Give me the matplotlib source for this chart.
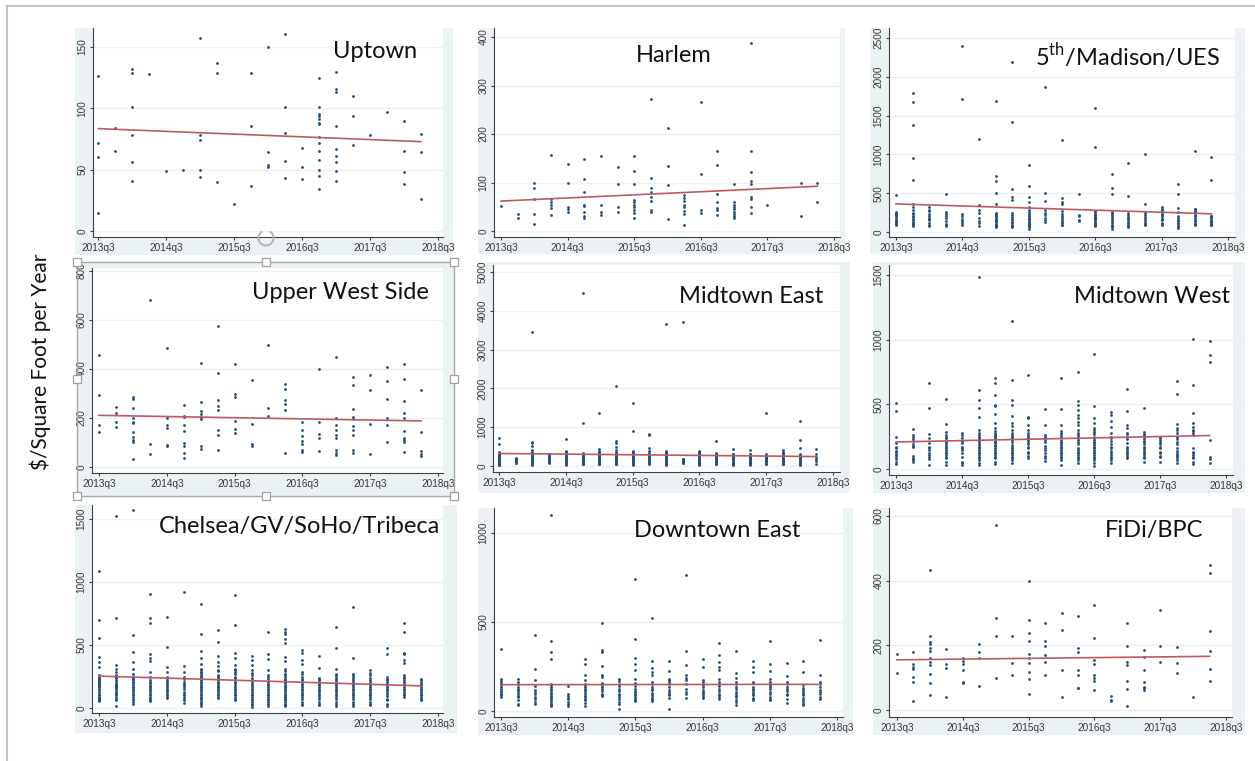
import numpy as np
import matplotlib
matplotlib.use("Agg")
import matplotlib.pyplot as plt
from matplotlib.patches import Rectangle, Arc

# ---- data: $/sq ft per year, one list per quarter starting 2013q3 ----
quarter_ticks = [0, 4, 8, 12, 16, 20]
quarter_labels = ['2013q3', '2014q3', '2015q3', '2016q3', '2017q3', '2018q3']

uptown = [
    [126, 72, 60, 15], [84, 65], [132, 129, 101, 78, 56, 41], [128], [49], [50],
    [157, 78, 74, 50, 44], [137, 129, 40], [22], [129, 86, 37], [150, 64, 54, 52],
    [161, 101, 80, 57, 43], [68, 52, 42],
    [125, 101, 95, 94, 91, 88, 87, 77, 72, 65, 58, 50, 45, 34],
    [130, 116, 113, 86, 67, 61, 56, 49, 41], [110, 94, 70], [78], [97],
    [90, 65, 48, 38], [79, 64, 26],
]

harlem = [
    [52], [36, 27], [100, 88, 66, 36, 14], [156, 66, 59, 54, 48, 32],
    [138, 98, 50, 45, 39], [149, 107, 81, 54, 51, 39, 31, 26], [154, 54, 39, 34],
    [131, 96, 49, 40], [154, 124, 96, 64, 60, 54, 49, 43, 38, 27],
    [272, 109, 89, 81, 71, 61, 43, 39], [212, 133, 94, 24],
    [75, 69, 61, 54, 49, 42, 36, 12], [266, 118, 43, 38],
    [164, 137, 76, 59, 48, 43, 32], [96, 59, 54, 49, 45, 40, 36, 31, 27],
    [388, 165, 122, 103, 97, 70, 66, 50, 38], [54], [], [100, 30], [99, 59],
]

madison_ues = [
    [472, 250, 230, 200, 160, 130, 110, 90],
    [1795, 1671, 1383, 954, 666, 357, 322, 249, 200, 172, 129, 99, 77],
    [322, 288, 236, 185, 150, 77], [485, 236, 202, 107, 73],
    [2401, 1710, 236, 172, 116], [1198, 352, 288, 142, 77],
    [1692, 722, 653, 503, 357, 215, 190, 172, 142, 107, 90, 77],
    [2190, 1413, 550, 451, 417, 215, 172, 116, 64],
    [859, 593, 451, 387, 322, 279, 236, 200, 172, 129, 99, 73, 43],
    [1868, 503, 404, 288, 215, 150], [1185, 434, 387, 357, 236, 185, 129, 86],
    [485, 223, 159], [1594, 1100, 258, 215, 190, 172, 120, 86],
    [743, 567, 485, 258, 215, 163, 95, 43], [889, 464, 215, 180, 129, 64],
    [1001, 365, 215, 163, 120, 86], [322, 279, 236, 172, 107],
    [619, 485, 309, 202, 142, 99, 56], [1048, 301, 258, 215, 159, 107],
    [966, 670, 202, 159, 116, 86],
]
# points packed in the solid lower columns
madison_ues_cluster = [
    [260, 215, 180, 145, 100], [280, 230, 190, 150, 115, 85], [270, 210, 165, 120, 95],
    [260, 180, 140, 90], [200, 140, 90], [240, 180, 110],
    [250, 230, 200, 160, 125, 95, 70], [250, 190, 150, 130, 90, 75],
    [260, 210, 185, 150, 110, 85, 60], [250, 180, 130], [270, 210, 160, 110, 95],
    [200, 140], [270, 235, 205, 180, 150, 130, 105, 75],
    [240, 200, 180, 140, 110, 80, 60], [240, 195, 160, 110, 90, 75],
    [240, 190, 140, 100], [300, 260, 220, 195, 150, 120, 90],
    [260, 180, 160, 120, 80, 70], [290, 270, 240, 200, 180, 140, 120, 95],
    [210, 190, 175, 140, 130, 100, 95],
]

upper_west = [
    [458, 292, 171, 141], [245, 220, 184, 164],
    [287, 278, 241, 198, 184, 179, 141, 123, 111, 104, 33], [682, 94, 52],
    [487, 202, 171, 160, 91, 85], [255, 209, 203, 171, 145, 99, 85, 58, 35],
    [424, 266, 229, 218, 206, 197, 85, 73], [574, 384, 275, 247, 231, 149, 129, 69],
    [419, 296, 287, 186, 156, 138], [354, 174, 92, 87], [500, 240, 210],
    [340, 320, 273, 259, 233, 56], [184, 152, 127, 108, 92, 69, 60],
    [400, 184, 133, 119, 66], [450, 199, 172, 153, 130, 117, 71, 57, 50],
    [367, 334, 236, 206, 195, 169, 153, 131, 71, 56], [376, 315, 175, 52],
    [409, 351, 277, 199, 171, 102], [422, 360, 270, 222, 202, 146, 117, 111, 102, 60],
    [313, 141, 66, 53, 43],
]

midtown_east = [
    [712, 566, 350, 300, 250, 200, 170, 140, 110, 80, 50, 30],
    [200, 170, 140, 110, 80],
    [3456, 626, 583, 515, 412, 350, 300, 250, 200, 150, 100, 50],
    [320, 270, 220, 170, 120, 80],
    [686, 380, 330, 280, 230, 180, 130, 90, 50],
    [4460, 1098, 330, 280, 230, 180, 140, 100, 60],
    [1372, 429, 380, 340, 300, 260, 220, 180, 140, 100, 60],
    [2058, 643, 583, 497, 412, 350, 300, 260, 220, 180, 140, 100, 60],
    [1629, 900, 380, 340, 300, 250, 200, 150, 100, 50],
    [815, 797, 455, 377, 330, 280, 230, 180, 130, 80],
    [3670, 380, 330, 280, 230, 180, 130, 80, 40], [3705, 180, 150, 120, 90],
    [380, 330, 280, 230, 180, 130, 90, 50], [643, 340, 290, 240, 190, 140, 100, 60],
    [446, 320, 270, 220, 170, 130, 90, 50], [412, 320, 270, 220, 170, 130, 90, 50],
    [1372, 300, 260, 220, 180, 140, 100, 60], [400, 340, 290, 240, 190, 140, 100, 60],
    [1149, 669, 455, 300, 250, 200, 150, 100, 60, 30], [429, 300, 180, 60],
]
midtown_east_cluster = [
    [320, 280, 230, 190, 150, 120, 90, 60, 20], [190, 150, 120, 90],
    [330, 280, 230, 180, 130, 80, 30], [300, 250, 200, 150, 100],
    [360, 310, 260, 210, 160, 110, 70, 30], [310, 260, 210, 160, 120, 80, 40],
    [360, 320, 280, 240, 200, 160, 120, 80, 40], [330, 280, 240, 200, 160, 120, 80, 40],
    [360, 320, 270, 220, 180, 130, 80, 30], [310, 260, 210, 160, 110, 60],
    [360, 310, 260, 210, 160, 110, 60, 20], [170, 140, 110, 80],
    [360, 310, 260, 210, 160, 110, 70, 30], [320, 270, 220, 170, 120, 80, 40],
    [300, 250, 200, 150, 110, 70, 30], [300, 250, 200, 150, 110, 70, 30],
    [280, 240, 200, 160, 120, 80, 40], [370, 320, 270, 220, 170, 120, 80, 40],
    [280, 230, 180, 130, 80, 40], [240, 120],
]

midtown_west = [
    [513, 448, 247, 173, 160, 134, 116, 95, 77, 57, 36],
    [307, 263, 250, 216, 180, 173, 88, 80, 70, 57],
    [662, 472, 273, 240, 173, 147, 121, 95, 77, 31],
    [539, 348, 289, 263, 237, 211, 186, 160, 134, 108, 82, 57, 31],
    [276, 237, 198, 173, 147, 57, 44, 31],
    [1482, 608, 533, 469, 405, 302, 250, 237, 230, 198, 173, 147, 121, 95, 70, 44, 31],
    [706, 662, 570, 495, 490, 423, 358, 314, 263, 260, 237, 220, 211, 186, 160, 134, 108, 82, 57, 39],
    [1147, 685, 533, 495, 412, 353, 332, 302, 263, 237, 211, 173, 147, 121, 95, 70, 44],
    [724, 405, 392, 340, 302, 263, 237, 211, 173, 134, 82],
    [466, 343, 263, 237, 211, 147, 82, 64],
    [701, 466, 343, 281, 263, 224, 198, 173, 147, 121, 95, 70, 31],
    [753, 526, 495, 456, 418, 392, 366, 340, 302, 263, 237, 211, 147, 121, 70, 44],
    [889, 485, 392, 353, 314, 289, 250, 224, 198, 173, 147, 121, 95, 70, 44, 23],
    [438, 418, 374, 327, 276, 237, 173, 121, 95, 70, 44],
    [621, 448, 340, 314, 281, 250, 147, 121, 82],
    [469, 284, 260, 234, 211, 173, 134, 108, 82, 57],
    [237, 211, 173, 134, 103, 52],
    [678, 577, 348, 314, 276, 245, 206, 126, 100, 70, 44],
    [1003, 647, 433, 358, 322, 260, 134, 108, 82, 57, 39],
    [990, 879, 825, 224, 95, 49],
]
midtown_west_cluster = [
    [200, 140, 105], [230, 195, 100], [200, 160, 110],
    [250, 225, 200, 170, 145, 120, 95], [260, 220, 160, 120, 90],
    [280, 260, 215, 185, 160, 135, 110, 85],
    [290, 275, 245, 200, 175, 150, 120, 95],
    [280, 250, 225, 185, 160, 135, 110, 85], [280, 250, 225, 190, 160, 120, 100],
    [250, 225, 180, 160, 120, 100],
    [290, 250, 210, 185, 160, 135, 110, 85],
    [280, 250, 225, 190, 160, 135, 110, 95, 85],
    [300, 270, 240, 210, 185, 160, 135, 110, 85],
    [250, 220, 190, 160, 140, 110, 85], [270, 230, 200, 170, 160, 135, 110, 95],
    [270, 250, 220, 190, 160, 145, 120, 95], [250, 225, 190, 160, 120, 90],
    [300, 230, 190, 160, 140, 110, 85], [300, 290, 280, 160, 120, 95],
    [80],
]

chelsea_soho = [
    [1091, 698, 552, 406, 366, 327, 260, 234, 207, 180, 154, 127, 101, 74, 53],
    [1526, 717, 340, 313, 287, 247, 220, 194, 167, 141, 114, 88, 13],
    [1569, 581, 446, 366, 308, 268, 234, 207, 180, 154, 127, 101, 74, 35],
    [908, 714, 677, 425, 393, 374, 287, 207, 180, 154, 114, 88, 53],
    [722, 486, 327, 287, 247, 220, 194, 154, 114, 88],
    [918, 334, 287, 247, 207, 167, 127, 88, 42],
    [828, 587, 454, 393, 353, 313, 287, 260, 234, 207, 180, 154, 127, 101, 69, 13],
    [619, 526, 411, 366, 334, 300, 260, 234, 207, 180, 154, 127, 101, 80],
    [897, 658, 438, 393, 340, 313, 287, 247, 207, 167, 127, 88, 66],
    [409, 380, 340, 300, 260, 220, 194, 154, 114, 74, 35, 8],
    [600, 425, 388, 300, 247, 207, 167, 127, 88, 48, 16],
    [627, 605, 584, 547, 512, 406, 374, 313, 273, 234, 207, 180, 154, 127, 101, 74, 48, 13],
    [457, 433, 380, 353, 287, 247, 207, 167, 127, 88, 35, 21],
    [414, 321, 234, 207, 167, 127, 88, 48, 21],
    [645, 475, 313, 273, 247, 207, 167, 127, 88, 48, 16],
    [799, 393, 273, 247, 207, 167, 127, 88, 48, 16],
    [300, 260, 220, 194, 167, 127, 88, 48, 21],
    [473, 425, 247, 207, 167, 127, 74, 13],
    [677, 600, 435, 428, 380, 361, 260, 220, 194, 167, 127, 88],
    [234, 207, 167, 127, 88, 61],
]
chelsea_soho_cluster = [
    [250, 240, 225, 215, 200, 190, 175, 165, 140, 115, 90, 80, 65],
    [260, 235, 210, 185, 175, 155, 130, 120, 100, 75, 60],
    [250, 240, 220, 195, 170, 165, 140, 115, 90, 60, 45],
    [245, 220, 195, 170, 165, 140, 125, 100, 75, 60],
    [240, 210, 180, 170, 140, 125, 100, 80],
    [230, 190, 180, 150, 115, 100, 75, 60],
    [300, 280, 250, 245, 220, 195, 170, 165, 140, 115, 90, 80, 55, 40, 30],
    [290, 250, 245, 220, 195, 170, 165, 140, 115, 90],
    [300, 270, 235, 220, 195, 180, 150, 140, 115, 100, 75],
    [280, 240, 210, 180, 170, 140, 125, 100, 85, 60, 50, 20],
    [260, 230, 190, 180, 150, 140, 110, 100, 70, 60, 30],
    [290, 260, 250, 220, 195, 170, 165, 140, 115, 90, 85, 60, 35, 25],
    [270, 230, 220, 190, 180, 150, 140, 110, 100, 70, 50],
    [240, 220, 190, 180, 150, 140, 110, 100, 70, 35],
    [260, 230, 220, 190, 180, 150, 140, 110, 100, 70, 30],
    [260, 230, 220, 190, 180, 150, 140, 110, 100, 70, 30],
    [280, 240, 210, 180, 150, 140, 110, 100, 70, 35],
    [230, 220, 190, 180, 150, 140, 110, 95, 60, 30],
    [250, 240, 210, 180, 150, 140, 110, 100],
    [220, 190, 180, 150, 140, 110, 100, 75],
]

downtown_east = [
    [350, 182, 167, 144, 125, 107, 88, 77], [182, 163, 135, 116, 97, 79, 41, 32],
    [425, 234, 172, 116, 97, 79, 41],
    [1099, 395, 331, 294, 154, 135, 116, 97, 79, 60, 41, 28],
    [140, 82, 73, 51, 28], [290, 266, 200, 172, 154, 135, 116, 97, 79, 60, 28],
    [494, 341, 331, 251, 200, 191, 144, 125, 97, 84], [182, 154, 125, 97, 79, 51, 13],
    [743, 406, 298, 266, 228, 182, 125, 107, 88, 69, 54],
    [524, 279, 242, 219, 200, 163, 135, 116, 88, 69, 54],
    [283, 227, 182, 163, 135, 107, 88, 13], [762, 337, 260, 204, 172, 107, 73],
    [290, 245, 172, 154, 135, 107, 88, 73],
    [380, 313, 275, 247, 228, 182, 163, 125, 88, 69],
    [335, 213, 185, 163, 135, 107, 79, 36], [279, 247, 219, 163, 135, 116, 88, 66],
    [395, 266, 225, 182, 154, 135, 107, 79, 60], [270, 197, 163, 125, 88, 45],
    [283, 219, 144, 116, 88, 60, 32], [399, 200, 163, 135, 107, 69],
]
downtown_east_cluster = [
    [160, 135, 115, 95], [150, 125, 105, 85, 60], [140, 105, 65, 50],
    [145, 125, 105, 85, 70, 50, 35], [95, 65, 40], [145, 125, 105, 85, 70, 45],
    [160, 135, 110, 90], [170, 140, 110, 90, 65, 40], [160, 140, 115, 95, 80, 60],
    [150, 125, 100, 80, 65], [175, 150, 120, 95, 75], [185, 150, 125, 95],
    [165, 145, 120, 100, 80], [150, 140, 110, 95, 80], [150, 125, 95, 85, 60, 50],
    [155, 125, 105, 95, 75, 60], [165, 145, 125, 95, 70], [150, 135, 110, 95, 65],
    [130, 105, 95, 75, 50, 40], [150, 120, 95, 80],
]

fidi_bpc = [
    [172, 115], [178, 142, 134, 127, 103, 88, 27],
    [433, 230, 211, 203, 193, 182, 162, 150, 139, 110, 85, 45], [189, 141, 131, 39],
    [162, 153, 142, 125, 88, 85], [204, 178, 160, 74], [573, 286, 228, 98],
    [228, 146, 107], [399, 279, 239, 214, 173, 161, 146, 119, 96, 51],
    [268, 214, 198, 170, 150, 108], [299, 247, 123, 39],
    [292, 193, 180, 123, 108, 69, 67], [325, 224, 154, 141, 108, 98, 91, 63],
    [44, 32, 28], [268, 199, 150, 139, 91, 64, 12], [186, 164, 123, 88, 72, 67, 61],
    [309, 198, 147], [194, 146, 115], [39], [448, 423, 243, 184, 127, 89],
]

titles = ['Uptown', 'Harlem', r'5$^{\mathrm{th}}$/Madison/UES',
          'Upper West Side', 'Midtown East', 'Midtown West',
          'Chelsea/GV/SoHo/Tribeca', 'Downtown East', 'FiDi/BPC']
panel_data = [(uptown, None), (harlem, None), (madison_ues, madison_ues_cluster),
              (upper_west, None), (midtown_east, midtown_east_cluster),
              (midtown_west, midtown_west_cluster), (chelsea_soho, chelsea_soho_cluster),
              (downtown_east, downtown_east_cluster), (fidi_bpc, None)]
yticks = [[0, 50, 100, 150], [0, 100, 200, 300, 400], [0, 500, 1000, 1500, 2000, 2500],
          [0, 200, 400, 600, 800], [0, 1000, 2000, 3000, 4000, 5000], [0, 500, 1000, 1500],
          [0, 500, 1000, 1500], [0, 500, 1000], [0, 200, 400, 600]]

# ---- layout, in pixels of the 1255x761 picture ----
W, H = 1255, 761
# background box (x0, y0, x1, y1)
bg_boxes = [(75, 28, 453, 255), (478, 28, 845, 254), (870, 28, 1245, 254),
            (77, 262, 454, 496), (478, 262, 850, 493), (873, 262, 1245, 493),
            (75, 505, 457, 733), (478, 508, 853, 735), (873, 508, 1245, 735)]
# plot area (x0, y0, x1, y1)
ax_boxes = [(93, 28, 443, 237), (494, 28, 840, 237), (889, 28, 1235, 237),
            (92, 268, 443, 473), (493, 265, 840, 472), (889, 265, 1233, 475),
            (92, 505, 443, 713), (494, 508, 843, 717), (889, 508, 1232, 717)]
# pixel x of 2013q3 and 2018q3
x_px = [(98.3, 437.7), (501, 834), (896, 1228), (99, 438), (499, 833),
        (896, 1226), (99, 438), (501, 837), (897, 1226)]
# pixel y of 0 and of the top tick
y_px = [(231, 47), (231, 37), (232, 38), (467, 271), (466, 272),
        (469, 275), (708, 519), (711, 533), (710, 516)]
# title: center x, baseline y
title_pos = [(375, 58), (674, 62), (1128, 66), (340, 299), (751, 303),
             (1152, 303), (300, 533), (717, 537), (1154, 537)]

BG = '#eaf2f3'
DOT = '#1f4f7a'
FIT = '#bd5a60'

plt.rcParams['mathtext.fontset'] = 'custom'
plt.rcParams['mathtext.rm'] = 'Lato'

fig = plt.figure(figsize=(W / 100, H / 100), dpi=100)
fig.patch.set_facecolor('white')


def fbox(x0, y0, x1, y1):
    return [x0 / W, 1 - y1 / H, (x1 - x0) / W, (y1 - y0) / H]


# slide border
fig.add_artist(plt.Line2D([7 / W, 1], [1 - 6 / H, 1 - 6 / H], color='#c4c4c4', lw=1.5))
fig.add_artist(plt.Line2D([7 / W, 7 / W], [0, 1 - 6 / H], color='#c4c4c4', lw=1.5))

for i in range(9):
    x0, y0, x1, y1 = bg_boxes[i]
    fig.add_artist(Rectangle((x0 / W, 1 - y1 / H), (x1 - x0) / W, (y1 - y0) / H,
                             transform=fig.transFigure, facecolor=BG,
                             edgecolor='none', zorder=0))

    ax = fig.add_axes(fbox(*ax_boxes[i]))
    ax.set_facecolor('white')

    sparse, cluster = panel_data[i]
    xs, ys = [], []
    for q, vals in enumerate(sparse):
        xs += [q] * len(vals)
        ys += vals
    if cluster is not None:
        for q, vals in enumerate(cluster):
            xs += [q] * len(vals)
            ys += vals
    xs = np.array(xs, dtype=float)
    ys = np.array(ys, dtype=float)
    ax.scatter(xs, ys, s=4, color=DOT, linewidths=0, zorder=3)

    # linear fit, like Stata's lfit
    slope, icpt = np.polyfit(xs, ys, 1)
    xf = np.array([xs.min(), xs.max()])
    ax.plot(xf, icpt + slope * xf, color=FIT, lw=1.2, zorder=4)

    # limits from pixel calibration
    ax_x0, ax_y0, ax_x1, ax_y1 = ax_boxes[i]
    p0, p20 = x_px[i]
    sx = (p20 - p0) / 20
    ax.set_xlim((ax_x0 - p0) / sx, (ax_x1 - p0) / sx)
    yb, yt = y_px[i]
    top = yticks[i][-1]
    sy = (yb - yt) / top
    ax.set_ylim((yb - ax_y1) / sy, (yb - ax_y0) / sy)

    ax.set_xticks(quarter_ticks)
    ax.set_xticklabels(quarter_labels)
    ax.set_yticks(yticks[i])
    ax.set_yticklabels([str(v) for v in yticks[i]], rotation=90, va='center')
    ax.grid(axis='y', color=BG, lw=1.0, zorder=0)
    ax.tick_params(labelsize=7.2, labelcolor='#383838', color='#404040',
                   length=2.5, width=0.8, pad=1.5)
    for s in ['top', 'right']:
        ax.spines[s].set_visible(False)
    for s in ['left', 'bottom']:
        ax.spines[s].set_color('#404040')
        ax.spines[s].set_linewidth(0.8)
    for lab in ax.get_xticklabels() + ax.get_yticklabels():
        lab.set_family('Liberation Sans')

    tx, ty = title_pos[i]
    fig.text(tx / W, 1 - ty / H, titles[i], ha='center', va='baseline',
             fontsize=17, family='Lato', color='#111111', zorder=10)

# y-axis title
fig.text(40 / W, 1 - 362 / H, '$/Square Foot per Year', rotation=90,
         ha='center', va='center', fontsize=15, family='Lato', color='#111111')

# selection frame around the Upper West Side picture
sx0, sy0, sx1, sy1 = 77, 262, 454, 496
fig.add_artist(Rectangle((sx0 / W, 1 - sy1 / H), (sx1 - sx0) / W, (sy1 - sy0) / H,
                         transform=fig.transFigure, facecolor='none',
                         edgecolor='#a8a8a8', lw=1.0, zorder=20))
for hx in [sx0, (sx0 + sx1) / 2, sx1]:
    for hy in [sy0, (sy0 + sy1) / 2, sy1]:
        if hx == (sx0 + sx1) / 2 and hy == (sy0 + sy1) / 2:
            continue
        fig.add_artist(Rectangle(((hx - 4) / W, 1 - (hy + 4) / H), 8 / W, 8 / H,
                                 transform=fig.transFigure, facecolor='white',
                                 edgecolor='#a0a0a0', lw=0.9, zorder=21))
fig.add_artist(Arc((266 / 100, (H - 238) / 100), 0.15, 0.15, theta1=120, theta2=420,
                   transform=fig.dpi_scale_trans, color='#b0b0b0', lw=1.3, zorder=21))

fig.savefig('out.png', dpi=100)
